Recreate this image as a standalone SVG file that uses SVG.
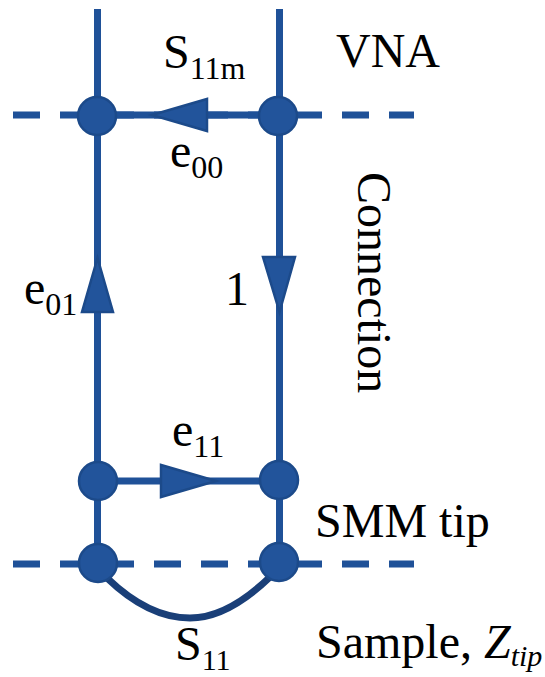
<svg xmlns="http://www.w3.org/2000/svg" width="545" height="677" viewBox="0 0 545 677">
<style>
.l{fill:none;stroke:#1f5198;stroke-width:7}
.d{stroke-dasharray:27 20}
.c{fill:none;stroke:#1a3f78;stroke-width:7}
.n{fill:#22549b;stroke:#1c4a8a;stroke-width:2.500}
.a{fill:#22549b;stroke:#1c4a8a;stroke-width:2.500;stroke-linejoin:miter}
text{font-family:"Liberation Serif","Times New Roman",serif;font-size:48px;fill:#000}
.s{font-size:32px}
.t{font-size:30px;font-style:italic}
</style>
<rect width="545" height="677" fill="#fff"/>
<g id="connectors">
<path class="l d" d="M13 115H414"/>
<path class="l d" d="M13 564H414"/>
<path class="l" d="M97.500 9V563M279.500 9V562M97 115H279M97 481H279"/>
<path class="c" d="M107 578C135 605 163 618 190 618C217 618 243 603 270 577"/>
<polygon class="a" points="152,115 207,99 207,131"/>
<polygon class="a" points="97.500,258 82,312 113,312"/>
<polygon class="a" points="279.500,312 263,257 295,257"/>
<polygon class="a" points="216,481 161,465 161,497"/>
</g>
<g id="node-a"><circle class="n" cx="97" cy="116" r="19"/></g>
<g id="node-b"><circle class="n" cx="278" cy="116" r="19"/></g>
<g id="node-c"><circle class="n" cx="98" cy="481" r="19"/></g>
<g id="node-d"><circle class="n" cx="279" cy="480" r="19"/></g>
<g id="node-e"><circle class="n" cx="98" cy="563" r="19"/></g>
<g id="node-f"><circle class="n" cx="279" cy="562" r="19"/></g>
<g id="labels">
<text x="163" y="68">S<tspan class="s" dy="11">11m</tspan></text>
<text x="336" y="67">VNA</text>
<text x="170" y="167">e<tspan class="s" dy="11">00</tspan></text>
<text x="24" y="304">e<tspan class="s" dy="11">01</tspan></text>
<text x="225" y="305">1</text>
<text x="172" y="446">e<tspan class="s" dy="11">11</tspan></text>
<text x="315" y="537">SMM tip</text>
<text x="175" y="660">S<tspan class="t" style="font-style:normal" dy="10">11</tspan></text>
<text x="316" y="658">Sample, <tspan font-style="italic">Z</tspan><tspan class="t" dy="8">tip</tspan></text>
<text transform="translate(358 172) rotate(90)">Connection</text>
</g>
</svg>
